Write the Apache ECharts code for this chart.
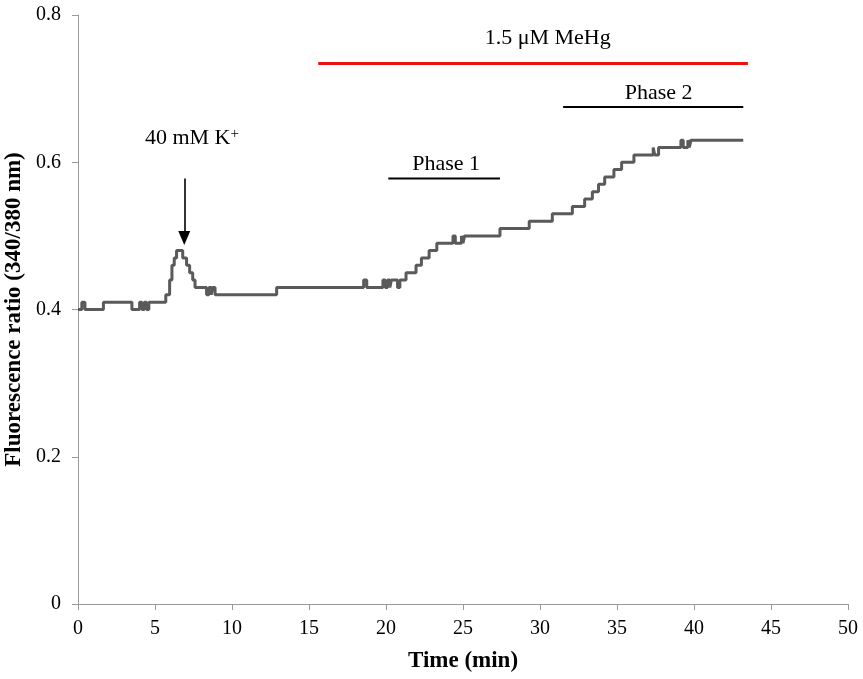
<!DOCTYPE html>
<html><head><meta charset="utf-8">
<script src="https://cdn.jsdelivr.net/npm/echarts@6/dist/echarts.min.js"></script>
<style>html,body{margin:0;padding:0;background:#fff}#c{width:863px;height:679px}</style>
</head><body><div id="c"></div>
<script>
// Trace: time (min) at which each ratio value begins (step-wise)
const times = [0,0.25,0.45,1.65,3.5,4.0,4.15,4.3,4.45,4.6,5.7,5.95,6.1,6.25,6.4,6.8,7.05,7.25,7.45,7.6,8.35,8.5,8.65,8.75,8.9,12.9,18.55,18.75,19.8,19.95,20.1,20.25,20.35,20.75,20.9,21.3,21.95,22.3,22.8,23.3,24.35,24.5,24.9,25.0,25.1,27.4,29.3,30.8,32.1,32.9,33.4,33.8,34.2,34.8,35.3,36.1,37.35,37.45,37.7,39.15,39.3,39.6,39.7,39.8,43.2];
const ratios = [0.40,0.41,0.40,0.41,0.40,0.41,0.40,0.41,0.40,0.41,0.42,0.44,0.46,0.47,0.48,0.47,0.46,0.45,0.44,0.43,0.42,0.43,0.42,0.43,0.42,0.43,0.44,0.43,0.44,0.43,0.44,0.43,0.44,0.43,0.44,0.45,0.46,0.47,0.48,0.49,0.50,0.49,0.50,0.49,0.50,0.51,0.52,0.53,0.54,0.55,0.56,0.57,0.58,0.59,0.60,0.61,0.62,0.61,0.62,0.63,0.62,0.63,0.62,0.63,0.63];
const xTicks = [0,5,10,15,20,25,30,35,40,45,50];
const yTicks = [0,0.2,0.4,0.6,0.8];
// Annotations (data coordinates)
const mehgBar = [[15.6,0.734],[43.5,0.734]];
const phase1Bar = [[20.15,0.578],[27.4,0.578]];
const phase2Bar = [[31.5,0.675],[43.2,0.675]];
const kArrow = [[6.9,0.578],[6.9,0.497]];
const labels = [
  {name:'1.5 μM MeHg', value:[30.5,0.768]},
  {name:'Phase 1', value:[23.9,0.598]},
  {name:'Phase 2', value:[37.7,0.694]},
  {name:'40 mM K{sup|+}', value:[7.4,0.632]}
];

const serif = '"Liberation Serif","Times New Roman",serif';
const chart = echarts.init(document.getElementById('c'), null, {renderer:'canvas'});
const trace = times.map((t,i)=>[t,ratios[i]]);
const barSeries = (d,color,w)=>({type:'line',data:d,symbol:'none',silent:true,lineStyle:{color:color,width:w},z:3});
chart.setOption({
  animation:false,
  grid:{left:78,right:15,top:15,bottom:75,containLabel:false,outerBoundsMode:'none'},
  xAxis:{type:'value',min:0,max:50,interval:5,
    name:'Time (min)',nameLocation:'middle',nameGap:46,
    nameTextStyle:{fontFamily:serif,fontWeight:'bold',fontSize:23,color:'#000'},
    axisLine:{lineStyle:{color:'#999',width:1}},
    axisTick:{show:true,length:6,lineStyle:{color:'#999'}},
    axisLabel:{fontFamily:serif,fontSize:20,color:'#000',margin:15},
    splitLine:{show:false}},
  yAxis:{type:'value',min:0,max:0.8,interval:0.2,
    name:'Fluorescence ratio (340/380 nm)',nameLocation:'middle',nameGap:50,nameRotate:90,
    nameTextStyle:{fontFamily:serif,fontWeight:'bold',fontSize:23,color:'#000'},
    axisLine:{show:true,lineStyle:{color:'#999',width:1}},
    axisTick:{show:true,length:6,lineStyle:{color:'#999'}},
    axisLabel:{fontFamily:serif,fontSize:20,color:'#000',margin:17,
      formatter:v=>String(Math.round(v*10)/10)},
    splitLine:{show:false}},
  series:[
    {type:'line',data:trace,step:'end',symbol:'none',lineStyle:{color:'#5a5a5a',width:3},z:2},
    barSeries(mehgBar,'#ee1111',3),
    barSeries(phase1Bar,'#000',2),
    barSeries(phase2Bar,'#000',2),
    {type:'line',data:kArrow,symbol:'none',lineStyle:{opacity:0},z:4,
      markLine:{silent:true,symbol:['none','triangle'],symbolSize:[12,14],
        lineStyle:{color:'#000',width:1.6,type:'solid'},label:{show:false},
        data:[[{coord:kArrow[0]},{coord:kArrow[1]}]]}},
    {type:'scatter',data:labels,symbolSize:0,silent:true,z:5,
      label:{show:true,position:'inside',formatter:p=>p.name,
        fontFamily:serif,fontSize:22,color:'#000',opacity:1,
        rich:{sup:{fontFamily:serif,fontSize:15,color:'#000',verticalAlign:'top',padding:[0,0,9,0]}}}}
  ]
});
</script></body></html>
